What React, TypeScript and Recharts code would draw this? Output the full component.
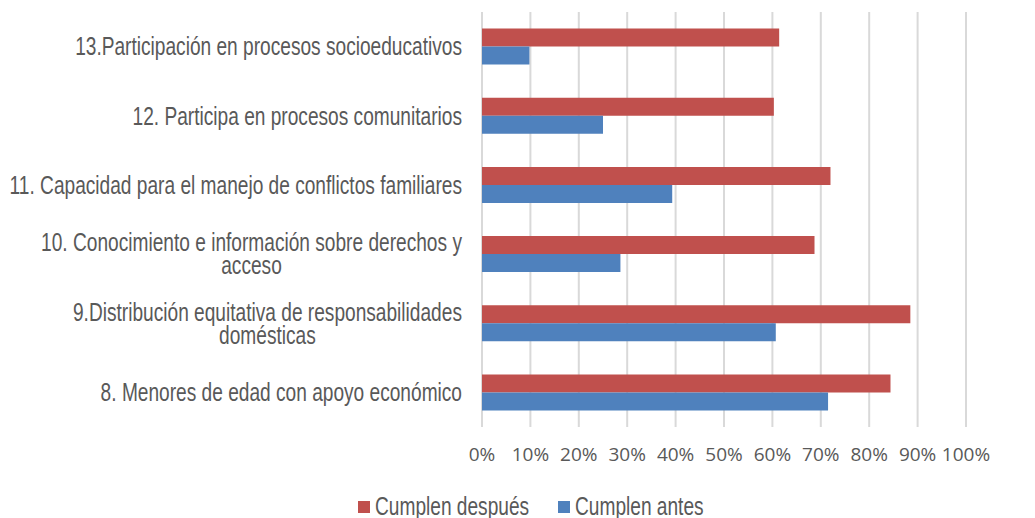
import React from "react";
import {
  BarChart,
  Bar,
  XAxis,
  YAxis,
  CartesianGrid,
  Legend,
} from "recharts";

const categories = [
  "13.Participación en procesos socioeducativos",
  "12. Participa en procesos comunitarios",
  "11. Capacidad para el manejo de conflictos familiares",
  "10. Conocimiento e información sobre derechos y\nacceso",
  "9.Distribución equitativa de responsabilidades\ndomésticas",
  "8. Menores de edad con apoyo económico",
];

const cumplenDespues = [61.4, 60.3, 72.0, 68.7, 88.5, 84.4];
const cumplenAntes = [9.8, 25.0, 39.3, 28.6, 60.7, 71.5];

const xTicks = [0, 10, 20, 30, 40, 50, 60, 70, 80, 90, 100];

const RED = "#C0504D";
const BLUE = "#4F81BD";
const TEXT = "#595959";
const LABEL_FONT = "'Liberation Sans', Arial, sans-serif";
const LABEL_SIZE = 25;
// no hay Arial Narrow: se comprime la fuente horizontalmente
const NARROW = 0.765;

const data = categories.map((name, i) => ({
  name,
  despues: cumplenDespues[i],
  antes: cumplenAntes[i],
}));

let ctx: CanvasRenderingContext2D | null = null;
function textWidth(s: string) {
  if (!ctx) ctx = document.createElement("canvas").getContext("2d");
  if (!ctx) return s.length * 9;
  ctx.font = `${LABEL_SIZE}px ${LABEL_FONT}`;
  return ctx.measureText(s).width * NARROW;
}

// etiquetas de varias líneas: bloque alineado a la derecha, líneas centradas
function CategoryTick(props: any) {
  const { x, y, payload } = props;
  const lines = String(payload.value).split("\n");
  const widest = Math.max(...lines.map(textWidth));
  const lineH = 23;
  const startY = y - ((lines.length - 1) * lineH) / 2;
  const multi = lines.length > 1;
  const ax = multi ? x - widest / 2 : x;
  return (
    <g>
      {lines.map((l, i) => (
        <g key={i} transform={`translate(${ax},${startY + i * lineH}) scale(${NARROW},1)`}>
          <text
            x={0}
            y={0}
            dy="0.35em"
            textAnchor={multi ? "middle" : "end"}
            fill={TEXT}
            fontFamily={LABEL_FONT}
            fontSize={LABEL_SIZE}
          >
            {l}
          </text>
        </g>
      ))}
    </g>
  );
}

function LegendContent() {
  const items = [
    { label: "Cumplen después", color: RED, left: 358 },
    { label: "Cumplen antes", color: BLUE, left: 558 },
  ];
  return (
    <div
      style={{
        position: "relative",
        height: 23,
        fontFamily: LABEL_FONT,
        fontSize: LABEL_SIZE,
        color: TEXT,
      }}
    >
      {items.map((it, i) => (
        <div
          key={i}
          style={{
            position: "absolute",
            left: it.left,
            top: 0,
            height: 23,
            display: "flex",
            alignItems: "center",
            whiteSpace: "nowrap",
          }}
        >
          <span
            style={{
              display: "inline-block",
              width: 12,
              height: 12,
              background: it.color,
              marginRight: 5,
            }}
          />
          <span style={{ display: "inline-block", transform: `scaleX(${NARROW})`, transformOrigin: "left center" }}>
            {it.label}
          </span>
        </div>
      ))}
    </div>
  );
}

export default function App() {
  return (
    <div style={{ position: "absolute", left: 0, top: 0, width: 1035, height: 518, background: "#fff" }}>
      <BarChart
        width={1035}
        height={518}
        data={data}
        layout="vertical"
        margin={{ top: 12, right: 69, bottom: 0, left: 0 }}
        barCategoryGap="24%"
        barGap={0}
      >
        <CartesianGrid horizontal={false} stroke="#D9D9D9" strokeWidth={2} />
        <XAxis
          type="number"
          domain={[0, 100]}
          ticks={xTicks}
          tickFormatter={(v: number) => `${v}%`}
          axisLine={false}
          tickLine={false}
          tickSize={0}
          tickMargin={21}
          height={68}
          tick={{ fill: TEXT, fontSize: 19, fontFamily: "'Open Sans', sans-serif" }}
          interval={0}
        />
        <YAxis
          type="category"
          dataKey="name"
          width={482}
          axisLine={false}
          tickLine={false}
          tickSize={0}
          tickMargin={20}
          tick={<CategoryTick />}
          interval={0}
        />
        <Legend
          verticalAlign="bottom"
          content={<LegendContent />}
          wrapperStyle={{ left: 0, width: 1035 }}
        />
        <Bar dataKey="despues" name="Cumplen después" fill={RED} isAnimationActive={false} />
        <Bar dataKey="antes" name="Cumplen antes" fill={BLUE} isAnimationActive={false} />
      </BarChart>
    </div>
  );
}
